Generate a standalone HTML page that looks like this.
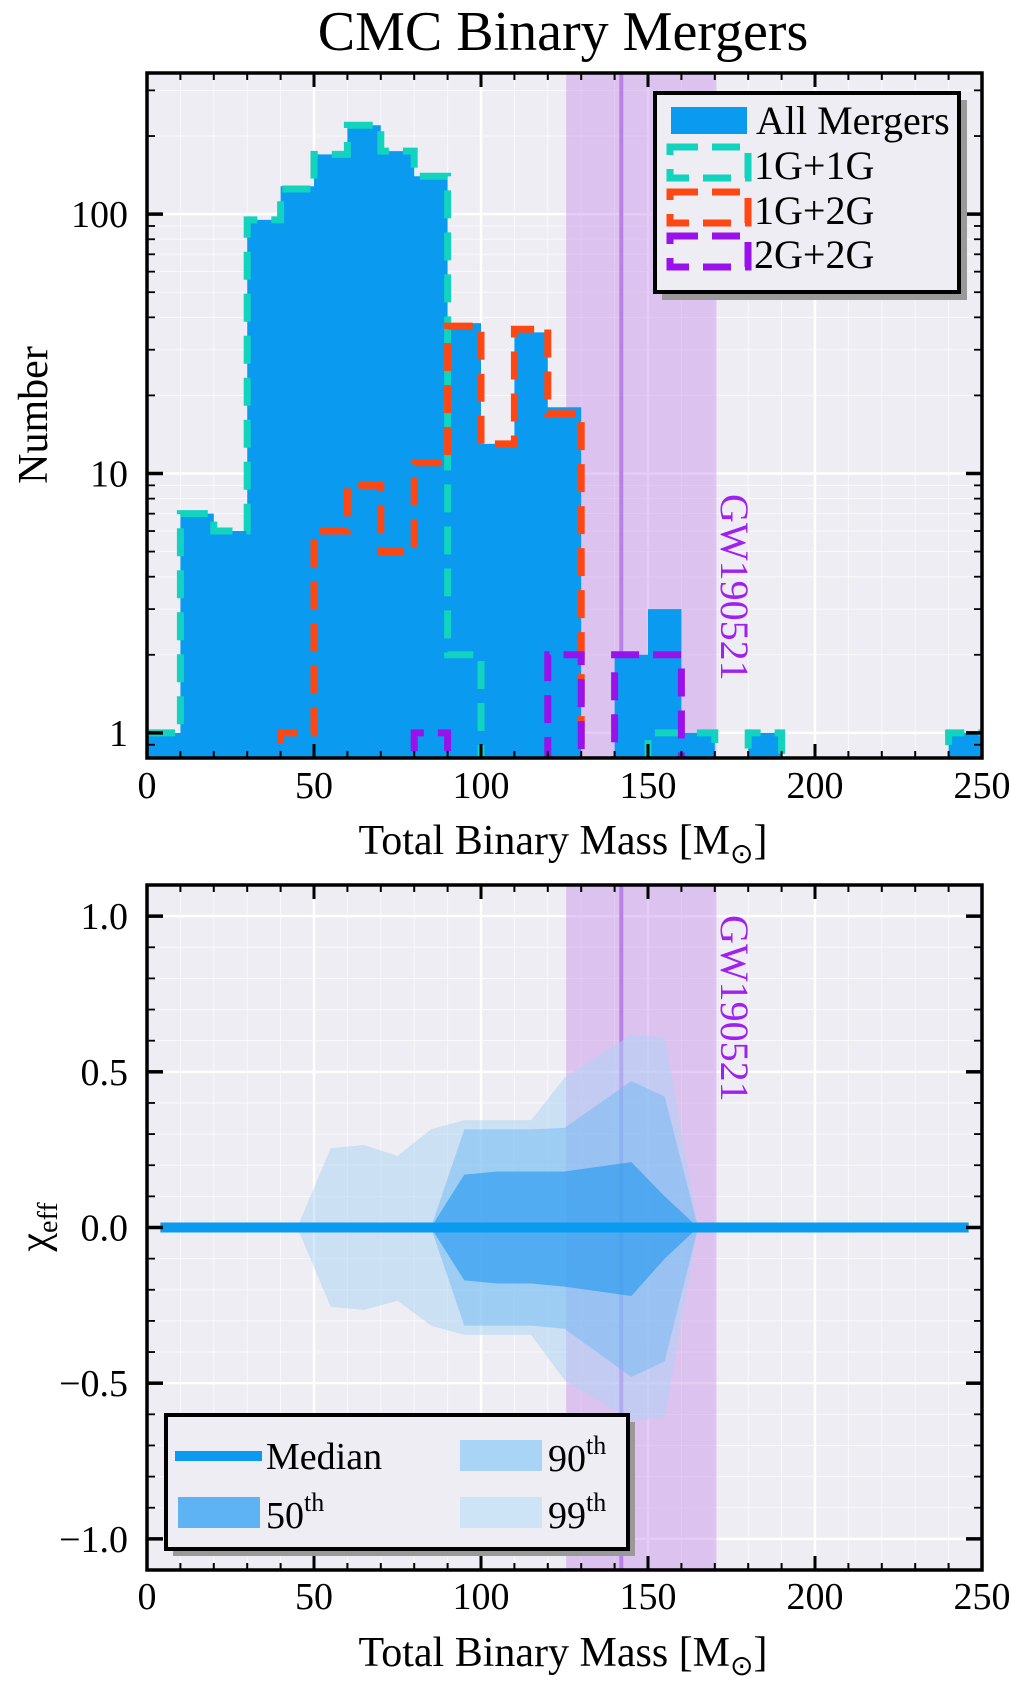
<!DOCTYPE html>
<html><head><meta charset="utf-8"><style>
body{margin:0;background:#fff}
svg{display:block;font-family:"Liberation Serif",serif}
</style></head><body>
<svg id="s" width="1010" height="1683" viewBox="0 0 1010 1683" xmlns="http://www.w3.org/2000/svg">
<text x="563" y="50" font-size="56" text-anchor="middle">CMC Binary Mergers</text>
<g id="topPanel"></g>
<g id="botPanel"></g>
</svg>
<script>
// ---- histogram data (bins of width 10 from 0 to 250) ----
const binEdges = [0,10,20,30,40,50,60,70,80,90,100,110,120,130,140,150,160,170,180,190,200,210,220,230,240,250];
const allMergers = [1,7,6,95,128,170,220,175,140,38,13,35,18,0,2,3,1,0,1,0,0,0,0,0,1];
const g1g1 = [1,7,6,95,125,170,220,175,140,2,0,0,0,0,0,1,1,0,1,0,0,0,0,0,1];
const g1g2 = [0,0,0,0,1,6,9,5,11,37,13,36,17,0,0,0,0,0,0,0,0,0,0,0,0];
const g2g2 = [0,0,0,0,0,0,0,0,1,0,0,0,2,0,2,2,0,0,0,0,0,0,0,0,0];
const topYTicks = [1,10,100];
const xTicks = [0,50,100,150,200,250];
// ---- chi_eff percentile data ----
const pctX = [45,55,65,75,85,95,105,115,125,145,155,165];
const p99Hi = [0,0.255,0.265,0.23,0.315,0.345,0.345,0.345,0.48,0.62,0.61,0];
const p99Lo = [0,-0.255,-0.265,-0.235,-0.315,-0.345,-0.345,-0.345,-0.49,-0.62,-0.61,0];
const p90X = [85,95,105,115,125,145,155,165];
const p90Hi = [0,0.315,0.315,0.315,0.32,0.47,0.42,0];
const p90Lo = [0,-0.315,-0.315,-0.315,-0.325,-0.48,-0.43,0];
const p50X = [85,95,105,115,125,145,155,165];
const p50Hi = [0,0.17,0.18,0.18,0.18,0.21,0.1,0];
const p50Lo = [0,-0.17,-0.18,-0.18,-0.19,-0.22,-0.1,0];
const medianX = [4,246];
const medianY = [0,0];
const botYTicks = [-1.0,-0.5,0.0,0.5,1.0];
const gwBand = [125.5,170.5];
const gwLine = 142;

const NS="http://www.w3.org/2000/svg";
function mk(parent,tag,attrs,text){const e=document.createElementNS(NS,tag);for(const k in attrs)e.setAttribute(k,attrs[k]);if(text!==undefined)e.textContent=text;parent.appendChild(e);return e;}

const L=147,R=982;
const sx=v=>L+(v/250)*(R-L);
const T1=73,B1=758, yMin=Math.log10(0.8), yMax=Math.log10(350);
const sy1=v=>B1-(Math.log10(v)-yMin)/(yMax-yMin)*(B1-T1);
const T2=885,B2=1570;
const sy2=v=>B2-(v+1.1)/2.2*(B2-T2);

const topG=document.getElementById('topPanel'), botG=document.getElementById('botPanel');
const defs=mk(document.getElementById('s'),'defs',{});
const c1=mk(defs,'clipPath',{id:'c1'});mk(c1,'rect',{x:L,y:T1,width:R-L,height:B1-T1});
const c2=mk(defs,'clipPath',{id:'c2'});mk(c2,'rect',{x:L,y:T2,width:R-L,height:B2-T2});

function panelBg(g,T,B){
  const r=mk(g,'rect',{x:L,y:T,width:R-L,height:B-T,fill:'#eeedf3'});
  
  
  for(let v=10;v<250;v+=10){
    const l=mk(g,'line',{x1:sx(v),x2:sx(v),y1:T,y2:B,stroke:'#fff',"stroke-width":v%50?1:2.5,opacity:v%50?0.7:1});
    
    
  }
}
panelBg(topG,T1,B1);
for(let d=0;d<3;d++)for(let m=1;m<10;m++){const v=m*Math.pow(10,d);if(v<0.8||v>350)continue;
  const l=mk(topG,'line',{x1:L,x2:R,y1:sy1(v),y2:sy1(v),stroke:'#fff',"stroke-width":m==1?2.5:1,opacity:m==1?1:0.7});
  
  }
function gw(g,T,B){
  const b=mk(g,'rect',{x:sx(gwBand[0]),y:T,width:sx(gwBand[1])-sx(gwBand[0]),height:B-T,fill:'#c58de8',opacity:0.45});
  
  
  const l=mk(g,'line',{x1:sx(gwLine),x2:sx(gwLine),y1:T,y2:B,stroke:'#b57be8',"stroke-width":4,opacity:0.9});
  
  
}
gw(topG,T1,B1);
const hg=mk(topG,'g',{"clip-path":'url(#c1)'});
function stepPath(vals,closed){
  const yb=B1+20;let d='';
  for(let i=0;i<vals.length;i++){const y=vals[i]>0?sy1(vals[i]):yb;
    d+=(i==0?'M'+sx(binEdges[0])+','+(closed?yb:y)+' L':' L')+sx(binEdges[i])+','+y+' L'+sx(binEdges[i+1])+','+y;}
  if(closed)d+=' L'+sx(binEdges[vals.length])+','+yb+' Z';
  return d;
}
const allP=mk(hg,'path',{d:stepPath(allMergers,true),fill:'#0a9bf0'});


[[g1g1,'#12d3bd','1g1g-histogram'],[g1g2,'#ff4713','1g2g-histogram'],[g2g2,'#9a12eb','2g2g-histogram']].forEach(([v,c,n])=>{
  const p=mk(hg,'path',{d:stepPath(v,false),fill:'none',stroke:c,"stroke-width":7,"stroke-dasharray":'28,14'});
  
  
});
function vtext(g,x,y,name){const t=mk(g,'text',{x:x,y:y,"font-size":40,fill:'#a020f0',transform:`rotate(90 ${x} ${y})`},'GW190521');
  }
vtext(topG,721,494,'gw190521-label');

function frameTicks(g,T,B,yMaj,yMin_){
  for(let v=0;v<=250;v+=10){const maj=v%50==0,len=maj?14:7;
    [[T,T+len],[B,B-len]].forEach(([a,b])=>{const l=mk(g,'line',{x1:sx(v),x2:sx(v),y1:a,y2:b,stroke:'#000',"stroke-width":maj?3:2});
      });}
  yMaj.forEach(y=>[[L,L+16],[R,R-16]].forEach(([a,b])=>{const l=mk(g,'line',{x1:a,x2:b,y1:y,y2:y,stroke:'#000',"stroke-width":3.5});
      }));
  yMin_.forEach(y=>[[L,L+8],[R,R-8]].forEach(([a,b])=>{const l=mk(g,'line',{x1:a,x2:b,y1:y,y2:y,stroke:'#000',"stroke-width":1.8});
      }));
  const f=mk(g,'rect',{x:L,y:T,width:R-L,height:B-T,fill:'none',stroke:'#000',"stroke-width":3.5});
  
}
const topMinor=[];for(let d=-1;d<3;d++)for(let m=2;m<10;m++){const v=m*Math.pow(10,d);if(v>0.8&&v<350)topMinor.push(sy1(v));}
frameTicks(topG,T1,B1,topYTicks.map(sy1),topMinor);
function xLabels(g,y){xTicks.forEach(v=>{const t=mk(g,'text',{x:sx(v),y:y,"font-size":38,"text-anchor":'middle'},String(v));
  });}
xLabels(topG,798);
topYTicks.forEach(v=>{const t=mk(topG,'text',{x:128,y:sy1(v)+13,"font-size":38,"text-anchor":'end'},String(v));
  });
function xTitle(g,y){const t=mk(g,'text',{x:563,y:y,"font-size":42,"text-anchor":'middle'});
  
  t.innerHTML='Total Binary Mass [M<tspan font-size="28" dy="9">⊙</tspan><tspan dy="-9">]</tspan>';}
xTitle(topG,854);
const yt=mk(topG,'text',{x:47,y:415,"font-size":42,"text-anchor":'middle',transform:'rotate(-90 47 415)'},'Number');

const lg=mk(topG,'g',{});
mk(lg,'rect',{x:662,y:100,width:305,height:200,fill:'#999'});
mk(lg,'rect',{x:655,y:93,width:304,height:199,fill:'#eeedf3',stroke:'#000',"stroke-width":4});
const le=mk(lg,'rect',{x:671,y:107,width:76,height:27,fill:'#0a9bf0'});
mk(lg,'text',{x:756,y:134,"font-size":40},'All Mergers');
[['#12d3bd','1G+1G',179],['#ff4713','1G+2G',224],['#9a12eb','2G+2G',268]].forEach(([c,t,y])=>{
  const r=mk(lg,'rect',{x:670,y:y-32,width:78,height:31,fill:'none',stroke:c,"stroke-width":7,"stroke-dasharray":'28,14'});
  
  mk(lg,'text',{x:754,y:y,"font-size":40},t);
});

// ---- bottom panel ----
panelBg(botG,T2,B2);
for(let v=-1.0;v<=1.0001;v+=0.1){const maj=Math.abs(Math.round(v*10)%5)==0;
  const l=mk(botG,'line',{x1:L,x2:R,y1:sy2(v),y2:sy2(v),stroke:'#fff',"stroke-width":maj?2.5:1,opacity:maj?1:0.7});
  }
gw(botG,T2,B2);
const bg=mk(botG,'g',{"clip-path":'url(#c2)'});
function band(xs,hi,lo,fill,op,name){
  let d='M'+xs.map((x,i)=>sx(x)+','+sy2(hi[i])).join(' L');
  d+=' L'+xs.slice().reverse().map((x,i)=>sx(x)+','+sy2(lo[xs.length-1-i])).join(' L')+' Z';
  const p=mk(bg,'path',{d:d,fill:fill,opacity:op});
  
}
band(pctX,p99Hi,p99Lo,'#a9d4f5',0.5,'band-99th');
band(p90X,p90Hi,p90Lo,'#6fb9f2',0.5,'band-90th');
band(p50X,p50Hi,p50Lo,'#2a9af0',0.65,'band-50th');
const med=mk(bg,'line',{x1:sx(medianX[0]),x2:sx(medianX[1]),y1:sy2(medianY[0]),y2:sy2(medianY[1]),stroke:'#0a9bf0',"stroke-width":10});

vtext(botG,721,915,'gw190521-label');
const botMinor=[];for(let v=-1.0;v<=1.0001;v+=0.1){if(Math.abs(Math.round(v*10)%5)!=0)botMinor.push(sy2(v));}
frameTicks(botG,T2,B2,botYTicks.map(sy2),botMinor);
xLabels(botG,1609);
botYTicks.forEach(v=>{const t=mk(botG,'text',{x:128,y:sy2(v)+13,"font-size":38,"text-anchor":'end'},(v<0?'\u2212':'')+Math.abs(v).toFixed(1));
  });
xTitle(botG,1666);
const yt2=mk(botG,'text',{x:48,y:1227,"font-size":42,"text-anchor":'middle',transform:'rotate(-90 48 1227)'});

yt2.innerHTML='χ<tspan font-size="28" dy="9">eff</tspan>';
const lg2=mk(botG,'g',{});
mk(lg2,'rect',{x:173,y:1422,width:462,height:134,fill:'#999'});
mk(lg2,'rect',{x:166,y:1415,width:462,height:134,fill:'#eeedf3',stroke:'#000',"stroke-width":4});
const m1=mk(lg2,'line',{x1:175,x2:262,y1:1456,y2:1456,stroke:'#0a9bf0',"stroke-width":10});
mk(lg2,'text',{x:266,y:1469,"font-size":38},'Median');
const m2=mk(lg2,'rect',{x:178,y:1497,width:82,height:31,fill:'#5db3f3'});
const t50=mk(lg2,'text',{x:266,y:1528,"font-size":38});t50.innerHTML='50<tspan font-size="26" dy="-17">th</tspan>';
const m3=mk(lg2,'rect',{x:460,y:1440,width:82,height:31,fill:'#a9d4f5'});
const t90=mk(lg2,'text',{x:548,y:1471,"font-size":38});t90.innerHTML='90<tspan font-size="26" dy="-17">th</tspan>';
const m4=mk(lg2,'rect',{x:460,y:1497,width:82,height:31,fill:'#cde4f6'});
const t99=mk(lg2,'text',{x:548,y:1528,"font-size":38});t99.innerHTML='99<tspan font-size="26" dy="-17">th</tspan>';
</script>
</body></html>
